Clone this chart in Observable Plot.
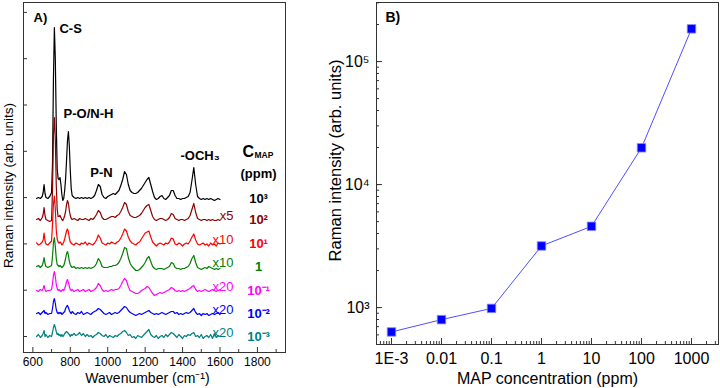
<!DOCTYPE html>
<html><head><meta charset="utf-8">
<script src="https://cdn.jsdelivr.net/npm/d3@7"></script>
<script src="https://cdn.jsdelivr.net/npm/@observablehq/plot@0.6"></script>
<style>body{margin:0;background:#fff}#fig{display:flex;width:720px;height:388px;overflow:hidden}</style>
</head><body><div id="fig"></div>
<script>
// ---------- Panel A data ----------
const wavenumbers = [620,630,640,650,655,660,665,670,680,690,
700,705,710,715,720,725,730,735,740,745,
750,755,760,765,770,775,780,785,790,795,
800,805,810,820,830,840,850,860,870,880,
890,900,910,920,930,940,950,960,970,980,
990,1000,1010,1020,1030,1040,1050,1060,1070,1080,
1090,1100,1110,1120,1130,1140,1150,1160,1170,1180,
1190,1200,1210,1220,1230,1240,1250,1260,1270,1280,
1290,1300,1310,1320,1330,1340,1350,1360,1370,1380,
1390,1400,1410,1420,1430,1440,1450,1460,1470,1480,
1490,1500,1510,1520,1530,1540,1550,1560,1570,1580,
1590,1600];

const spec1000 = [0,1,0,2,6,14,5,1,0,2,
 6,35,120,171,140,75,30,20,19,21,
 14,4,-2,0,8,20,38,58,67,52,
 28,10,3,1,0,1,0,1,0,1,
 0,1,0,1,3,8,14,12,4,1,
 0,2,3,4,5,4,6,8,13,19,
 27,24,14,8,6,5,5,6,8,10,
 13,16,19,21,14,7,1,-1,0,2,
 3,0,-1,1,3,8,8,3,0,0,
 -1,0,0,1,2,6,18,31,14,2,
 0,-1,0,-1,0,-1,0,-1,-2,-1,
 0,-1];
const spec100 = [0,1,-1,2,5,12,4,0,-1,-2,
 -1,30,85,102,80,35,10,3,3,4,
 2,0,-1,1,4,8,15,19,16,9,
 4,1,0,1,0,-1,1,0,0,1,
 0,-1,1,0,2,5,9,7,2,0,
 0,1,2,3,3,2,4,5,8,12,
 17,15,8,4,3,2,2,3,4,6,
 9,12,14,15,9,3,0,-1,0,1,
 1,0,-1,0,2,6,5,1,0,-1,
 0,0,-1,0,1,4,10,16,7,1,
 0,-1,0,0,-1,0,-1,0,-1,-1,
 0,-1];
const spec10 = [1,-1,0,2,4,11,3,0,-1,1,
 3,20,40,48,35,14,5,2,1,2,
 1,-1,0,2,5,9,13,15,12,6,
 2,1,0,-1,1,0,-1,1,0,2,
 -1,1,0,-1,1,4,9,6,1,0,
 -1,1,0,2,1,0,2,3,6,10,
 15,13,7,3,1,0,-1,1,2,5,
 8,11,12,13,7,2,0,-2,0,1,
 0,-1,1,0,2,6,5,0,-1,1,
 0,-2,0,1,0,3,7,10,4,0,
 -1,0,1,-1,0,-2,1,-1,0,-2,
 1,0];
const spec1 = [0,1,-1,1,4,9,3,0,-1,0,
 1,10,24,29,20,8,2,1,0,1,
 0,-1,0,1,4,8,13,15,11,5,
 2,0,-1,0,-2,-1,-2,-1,-2,-1,
 -2,-1,-2,-1,0,3,8,5,0,-1,
 -1,-1,0,0,1,1,2,4,8,13,
 19,18,9,3,0,-2,-4,-4,-3,-1,
 1,4,8,10,5,0,-2,-3,-2,-2,
 -2,-3,-2,-1,0,4,3,-1,-2,-2,
 -3,-2,-2,-1,0,3,8,11,4,-1,
 -2,-3,-2,-1,-2,0,-1,-2,-3,-2,
 -3,-2];
const spec01 = [0,-1,1,0,2,5,1,-1,0,0,
 1,7,15,19,14,6,2,0,1,0,
 -1,0,1,0,2,5,9,11,8,4,
 1,0,1,-1,0,1,-1,0,1,-1,
 0,1,-1,0,1,3,7,5,1,-1,
 0,-1,0,1,0,1,1,2,5,9,
 12,10,4,0,-1,-2,-3,-3,-2,0,
 1,2,4,3,0,-3,-5,-4,-3,-2,
 -3,-2,-1,0,1,3,2,0,-1,0,
 -1,0,-1,0,1,2,4,5,1,-1,
 0,-1,0,1,0,-1,0,1,0,-1,
 0,1];
const spec001 = [0,1,-1,1,2,3,0,1,-1,0,
 0,5,12,15,10,4,1,0,1,0,
 1,-1,0,1,2,5,7,8,6,3,
 1,0,2,0,-1,1,0,2,-1,0,
 1,0,-1,1,2,3,5,4,2,0,
 -1,0,1,-1,0,1,0,1,3,5,
 7,6,3,1,0,-1,-2,-1,0,-1,
 0,1,2,3,1,0,-1,0,-1,0,
 1,0,-1,0,1,2,2,0,1,-1,
 0,-1,0,1,0,1,3,5,1,-1,
 0,-2,0,-1,0,-2,-1,0,-1,0,
 1,-1];
const spec0001 = [0,2,-1,1,3,6,0,2,-1,1,
 0,4,9,12,9,5,2,3,1,2,
 0,2,0,1,3,4,5,4,3,2,
 0,2,1,3,1,2,4,1,3,0,
 2,0,1,-1,1,2,4,3,1,0,
 2,-1,1,0,-1,1,0,2,3,5,
 6,4,1,2,-1,0,-2,1,0,-1,
 1,3,5,7,2,0,-1,1,-2,0,
 1,-1,2,0,2,4,3,1,-1,2,
 0,-2,1,0,2,1,3,4,0,1,
 -1,2,-2,0,1,-1,2,-2,3,-1,
 1,0];

const seriesA = [spec1000, spec100, spec10, spec1, spec01, spec001, spec0001];
const offsets = [138, 117, 92.5, 70, 46, 23, 0];
const colorsA = ["#000000", "#8b0000", "#ff0000", "#008000", "#ff00ff", "#0000ff", "#008080"];
const concLabels = ["10³", "10²", "10¹", "1", "10⁻¹", "10⁻²", "10⁻³"];
const factorLabels = ["", "x5", "x10", "x10", "x20", "x20", "x20"];
const xMajorA = [600, 800, 1000, 1200, 1400, 1600, 1800];
const xMinorA = [700, 900, 1100, 1300, 1500, 1700, 1900];

// ---------- Panel B data ----------
const concentrations = [0.001, 0.01, 0.1, 1, 10, 100, 1000];
const intensities = [634, 798, 985, 3170, 4580, 19900, 184500];
const xTickValuesB = [0.001, 0.01, 0.1, 1, 10, 100, 1000];
const xTickLabelsB = ["1E-3", "0.01", "0.1", "1", "10", "100", "1000"];
const yTickValuesB = [1e3, 1e4, 1e5];
const yTickLabelsB = ["10³", "10⁴", "10⁵"];

const font = "'Liberation Sans', Arial, Helvetica, sans-serif";
const axisCol = "#333";

// ---------- Panel A ----------
const rowsA = seriesA.map((s, i) => s.map((v, j) => ({wn: wavenumbers[j], v: v + offsets[i]})));
const yTicksA = d3.range(0, 330, 46.3);

const plotA = Plot.plot({
  width: 300, height: 388,
  marginLeft: 23, marginRight: 15, marginTop: 2, marginBottom: 36,
  x: {domain: [550, 1950]},
  y: {domain: [-16, 334], axis: null},
  style: {fontFamily: font, background: "white", color: "black"},
  marks: [
    ...rowsA.map((r, i) => Plot.line(r, {x: "wn", y: "v", stroke: colorsA[i], strokeWidth: 1.2})),
    Plot.frame({stroke: axisCol}),
    Plot.tickX(xMinorA, {x: d => d, insetTop: 347, stroke: axisCol}),
    Plot.tickX(xMajorA, {x: d => d, insetTop: 345, stroke: axisCol}),
    Plot.tickY(yTicksA, {y: d => d, insetRight: 258, stroke: axisCol}),
    Plot.axisX(xMajorA, {tickSize: 0, tickPadding: 5, fontSize: 12, label: null, tickFormat: d3.format("d")}),
    Plot.text(["Wavenumber (cm⁻¹)"], {text: d => d, frameAnchor: "bottom", textAnchor: "middle", lineAnchor: "middle", dy: 26, dx: -7, fontSize: 14}),
    Plot.text(["Raman intensity (arb. units)"], {text: d => d, frameAnchor: "left", textAnchor: "middle", lineAnchor: "middle", rotate: -90, dx: -15, dy: 8, fontSize: 13.5}),
    Plot.text(["A)"], {text: d => d, frameAnchor: "top-left", lineAnchor: "middle", dx: 10, dy: 15, textAnchor: "start", fontWeight: "bold", fontSize: 13}),
    Plot.text(["C-S"], {text: d => d, x: () => 742, y: () => 308, textAnchor: "start", fontWeight: "bold", fontSize: 13}),
    Plot.text(["P-O/N-H"], {text: d => d, x: () => 764, y: () => 223, textAnchor: "start", fontWeight: "bold", fontSize: 13}),
    Plot.text(["P-N"], {text: d => d, x: () => 967, y: () => 164, textAnchor: "middle", fontWeight: "bold", fontSize: 13}),
    Plot.text(["-OCH₃"], {text: d => d, x: () => 1389, y: () => 181, textAnchor: "start", fontWeight: "bold", fontSize: 13}),
    Plot.text(["C"], {text: d => d, x: () => 1720, y: () => 185, textAnchor: "start", fontWeight: "bold", fontSize: 16}),
    Plot.text(["MAP"], {text: d => d, x: () => 1784, y: () => 181, textAnchor: "start", fontWeight: "bold", fontSize: 8.5}),
    Plot.text(["(ppm)"], {text: d => d, x: () => 1806, y: () => 163, textAnchor: "middle", fontWeight: "bold", fontSize: 13}),
    ...concLabels.map((t, i) => Plot.text([t], {text: d => d, x: () => 1806, y: () => offsets[i], textAnchor: "middle", fontWeight: "bold", fontSize: 13, fill: colorsA[i]})),
    ...factorLabels.map((t, i) => t ? Plot.text([t], {text: d => d, x: () => 1672, y: () => offsets[i], dy: -4, textAnchor: "end", fontSize: 13, fill: colorsA[i]}) : null).filter(Boolean)
  ]
});

// ---------- Panel B ----------
const rowsB = concentrations.map((c, i) => ({c, v: intensities[i]}));
const xDomB = [10 ** -3.3, 10 ** 3.54];
const yDomB = [10 ** 2.70, 10 ** 5.48];
const xMinorB = d3.scaleLog().domain(xDomB).ticks();
const yMinorB = d3.scaleLog().domain(yDomB).ticks();

const plotB = Plot.plot({
  width: 420, height: 388,
  marginLeft: 76, marginRight: 2, marginTop: 2, marginBottom: 44,
  x: {type: "log", domain: xDomB},
  y: {type: "log", domain: yDomB},
  style: {fontFamily: font, background: "white", color: "black"},
  marks: [
    Plot.frame({stroke: axisCol}),
    Plot.tickX(xMinorB, {x: d => d, insetTop: 339, stroke: axisCol}),
    Plot.tickX(xTickValuesB, {x: d => d, insetTop: 336, stroke: axisCol}),
    Plot.tickY(yMinorB, {y: d => d, insetRight: 339, stroke: axisCol}),
    Plot.tickY(yTickValuesB, {y: d => d, insetRight: 336, stroke: axisCol}),
    Plot.axisX(xTickValuesB, {tickSize: 0, tickPadding: 8, fontSize: 16, label: null, tickFormat: d => xTickLabelsB[xTickValuesB.indexOf(d)]}),
    Plot.axisY(yTickValuesB, {tickSize: 0, tickPadding: 7, fontSize: 16, label: null, tickFormat: d => yTickLabelsB[yTickValuesB.indexOf(d)]}),
    Plot.line(rowsB, {x: "c", y: "v", stroke: "#4f4fff", strokeWidth: 1}),
    Plot.dot(rowsB, {x: "c", y: "v", symbol: "square", r: 4.8, fill: "#0000ff", stroke: "#8c8cff", strokeWidth: 0.8}),
    Plot.text(["B)"], {text: d => d, frameAnchor: "top-left", lineAnchor: "middle", dx: 9, dy: 15, textAnchor: "start", fontWeight: "bold", fontSize: 14}),
    Plot.text(["MAP concentration (ppm)"], {text: d => d, frameAnchor: "bottom", textAnchor: "middle", lineAnchor: "middle", dy: 34, fontSize: 16}),
    Plot.text(["Raman intensity (arb. units)"], {text: d => d, frameAnchor: "left", textAnchor: "middle", lineAnchor: "middle", rotate: -90, dx: -41, dy: -13, fontSize: 16.5})
  ]
});

const fig = document.getElementById("fig");
fig.appendChild(plotA);
fig.appendChild(plotB);
</script>
</body></html>
